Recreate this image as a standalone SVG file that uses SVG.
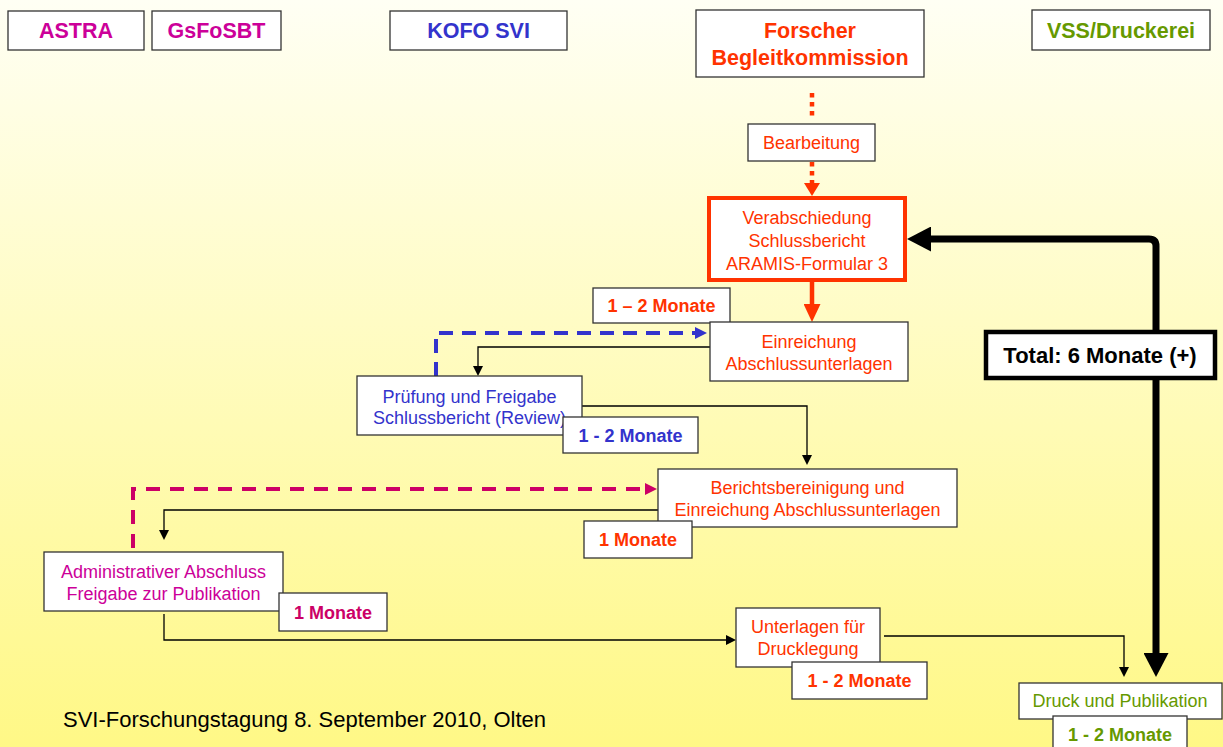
<svg xmlns="http://www.w3.org/2000/svg" width="1223" height="747" viewBox="0 0 1223 747">
<defs>
<linearGradient id="bg" x1="0" y1="0" x2="0" y2="1">
<stop offset="0" stop-color="#FFFFF4"/>
<stop offset="1" stop-color="#FFF886"/>
</linearGradient>
<marker id="mThin" markerUnits="userSpaceOnUse" markerWidth="10" markerHeight="10" refX="1" refY="5" orient="auto"><path d="M0,0 L10,5 L0,10 z" fill="#000"/></marker>
<marker id="mBlue" markerUnits="userSpaceOnUse" markerWidth="12" markerHeight="12" refX="1" refY="6" orient="auto"><path d="M0,0 L12,6 L0,12 z" fill="#3333CC"/></marker>
<marker id="mPink" markerUnits="userSpaceOnUse" markerWidth="12" markerHeight="12" refX="1" refY="6" orient="auto"><path d="M0,0 L12,6 L0,12 z" fill="#CC0066"/></marker>
<marker id="mRed" markerUnits="userSpaceOnUse" markerWidth="18" markerHeight="17" refX="1" refY="8.5" orient="auto"><path d="M0,0 L18,8.5 L0,17 z" fill="#FF3300"/></marker>
<marker id="mRedDot" markerUnits="userSpaceOnUse" markerWidth="13" markerHeight="16" refX="1" refY="8" orient="auto"><path d="M0,0 L13,8 L0,16 z" fill="#FF3300"/></marker>
<marker id="mThick" markerUnits="userSpaceOnUse" markerWidth="24" markerHeight="25" refX="1" refY="12.5" orient="auto-start-reverse"><path d="M0,0 L24,12.5 L0,25 z" fill="#000"/></marker>
</defs>
<style>
text{font-family:"Liberation Sans",Arial,sans-serif;text-anchor:middle}
.box{fill:#fff;stroke:#333;stroke-width:1.3}
.hd{font-size:21.5px;font-weight:bold}
.nt{font-size:18px}
.bd{font-size:18px;font-weight:bold}
.red{fill:#FF3300}
.blue{fill:#3333CC}
.mag{fill:#CC0099}
.pink{fill:#CC0066}
.green{fill:#669900}
.thin{fill:none;stroke:#000;stroke-width:1.3;marker-end:url(#mThin)}
</style>
<rect x="0" y="0" width="1223" height="747" fill="url(#bg)"/>

<g id="connectors">
<path d="M812,93 V120" fill="none" stroke="#FF3300" stroke-width="4.5" stroke-dasharray="4.5 4.5"/>
<path d="M812,162 V184" fill="none" stroke="#FF3300" stroke-width="4.5" stroke-dasharray="4.5 4.5" marker-end="url(#mRedDot)"/>
<path d="M812,281 V305" fill="none" stroke="#FF3300" stroke-width="4.5" marker-end="url(#mRed)"/>
<path d="M436,376 V333 H696" fill="none" stroke="#3333CC" stroke-width="4" stroke-dasharray="14 9" marker-end="url(#mBlue)"/>
<path class="thin" d="M710,347 H478 V367"/>
<path class="thin" d="M582,406 H807 V456"/>
<path d="M133,548 V489 H646" fill="none" stroke="#CC0066" stroke-width="4" stroke-dasharray="14 10" marker-end="url(#mPink)"/>
<path class="thin" d="M658,510 H164 V531"/>
<path class="thin" d="M164,614 V640 H727"/>
<path class="thin" d="M884,636 H1124 V668"/>
<path d="M1156,654 V246 Q1156,239 1149,239 H930" fill="none" stroke="#000" stroke-width="7" marker-start="url(#mThick)" marker-end="url(#mThick)"/>
</g>

<g id="astra"><rect class="box" x="8" y="11" width="136" height="39"/><text class="hd mag" x="76" y="38">ASTRA</text></g>
<g id="gsfosbt"><rect class="box" x="152" y="11" width="129" height="39"/><text class="hd mag" x="216.5" y="38">GsFoSBT</text></g>
<g id="kofo"><rect class="box" x="390" y="11" width="177" height="39"/><text class="hd blue" x="478.5" y="38">KOFO SVI</text></g>
<g id="forscher"><rect class="box" x="696" y="10" width="228" height="67"/><text class="hd red" x="810" y="38">Forscher</text><text class="hd red" x="810" y="65">Begleitkommission</text></g>
<g id="vss"><rect class="box" x="1032" y="10" width="178" height="40"/><text class="hd green" x="1121" y="38">VSS/Druckerei</text></g>

<g id="bearbeitung"><rect class="box" x="748" y="124" width="127" height="37"/><text class="nt red" x="811.5" y="149">Bearbeitung</text></g>
<g id="verabschiedung"><rect x="709" y="198" width="196" height="82" fill="#fff" stroke="#FF3300" stroke-width="4"/><text class="nt red" x="807" y="224">Verabschiedung</text><text class="nt red" x="807" y="247">Schlussbericht</text><text class="nt red" x="807" y="270">ARAMIS-Formular 3</text></g>
<g id="dur1"><rect class="box" x="593" y="288" width="137" height="35"/><text class="bd red" x="661.5" y="312">1 – 2 Monate</text></g>
<g id="einreichung"><rect class="box" x="710" y="322" width="198" height="59"/><text class="nt red" x="809" y="348">Einreichung</text><text class="nt red" x="809" y="370">Abschlussunterlagen</text></g>
<g id="pruefung"><rect class="box" x="357" y="376" width="225" height="59"/><text class="nt blue" x="469.5" y="403">Prüfung und Freigabe</text><text class="nt blue" x="469.5" y="424">Schlussbericht (Review)</text></g>
<g id="dur2"><rect class="box" x="563" y="417" width="135" height="36"/><text class="bd blue" x="630.5" y="442">1 - 2 Monate</text></g>
<g id="berichtsbereinigung"><rect class="box" x="658" y="469" width="299" height="58"/><text class="nt red" x="807.5" y="494">Berichtsbereinigung und</text><text class="nt red" x="807.5" y="516">Einreichung Abschlussunterlagen</text></g>
<g id="dur3"><rect class="box" x="584" y="521" width="108" height="37"/><text class="bd red" x="638" y="546">1 Monate</text></g>
<g id="admin"><rect class="box" x="44" y="552" width="239" height="59"/><text class="nt mag" x="163.5" y="578">Administrativer Abschluss</text><text class="nt mag" x="163.5" y="600">Freigabe zur Publikation</text></g>
<g id="dur4"><rect class="box" x="279" y="593" width="108" height="38"/><text class="bd pink" x="333" y="619">1 Monate</text></g>
<g id="unterlagen"><rect class="box" x="736" y="608" width="144" height="59"/><text class="nt red" x="808" y="633">Unterlagen für</text><text class="nt red" x="808" y="655">Drucklegung</text></g>
<g id="dur5"><rect class="box" x="792" y="662" width="135" height="37"/><text class="bd red" x="859.5" y="687">1 - 2 Monate</text></g>
<g id="druck"><rect class="box" x="1019" y="683" width="203" height="36"/><text class="nt green" x="1120" y="707">Druck und Publikation</text></g>
<g id="dur6"><rect class="box" x="1053" y="716" width="134" height="40"/><text class="bd green" x="1120" y="741">1 - 2 Monate</text></g>
<g id="total"><rect x="986" y="332" width="229" height="46" fill="#fff" stroke="#000" stroke-width="4.5"/><text x="1100" y="363" style="font-size:22px;font-weight:bold" fill="#000">Total: 6 Monate (+)</text></g>

<text x="63" y="727" style="font-size:22px;text-anchor:start" fill="#000">SVI-Forschungstagung 8. September 2010, Olten</text>
</svg>
